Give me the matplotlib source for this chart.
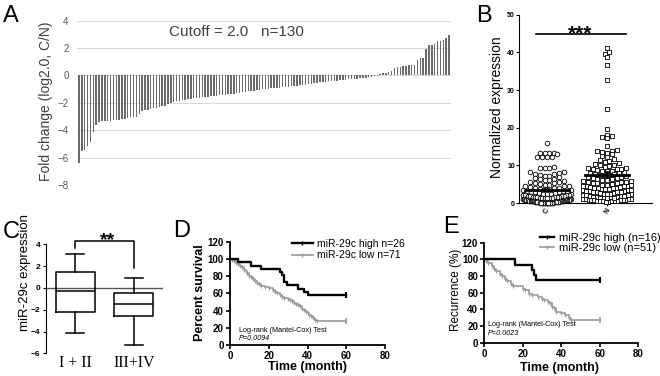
import numpy as np
import matplotlib
matplotlib.use("Agg")
import matplotlib.pyplot as plt
from matplotlib.lines import Line2D

plt.rcParams['font.family'] = ['Liberation Sans', 'DejaVu Sans']

W, H = 660, 376

# ---- A: fold change per sample, sorted
fold_change = [
    -6.4, -5.5, -5.45, -5.15, -4.85, -4.15, -3.65, -3.4,
    -3.35, -3.33, -3.32, -3.3, -3.28, -3.25, -3.22, -3.2, -3.15, -3.1, -3.05, -3.02, -3.0,
    -2.85,
    -2.6, -2.55, -2.5, -2.45, -2.4, -2.35, -2.3, -2.25, -2.2, -2.1, -2.0,
    -1.95, -1.9, -1.85, -1.82, -1.8, -1.75, -1.7, -1.68, -1.65, -1.62, -1.6, -1.58,
    -1.55, -1.52, -1.5, -1.48, -1.45, -1.42, -1.4, -1.37, -1.35, -1.32, -1.3, -1.27,
    -1.24, -1.2, -1.17, -1.14, -1.1, -1.07, -1.04, -1.0,
    -0.98, -0.96, -0.94, -0.92, -0.9, -0.88, -0.86, -0.84, -0.82, -0.8, -0.78, -0.75,
    -0.72, -0.7, -0.67, -0.64, -0.6, -0.57, -0.54, -0.5, -0.48, -0.45,
    -0.43, -0.41, -0.39, -0.37, -0.35, -0.33, -0.31, -0.29, -0.27, -0.25, -0.23, -0.21,
    -0.19, -0.16, -0.13, -0.1, -0.06, -0.02,
    0.1, 0.15, 0.2, 0.25, 0.3, 0.55, 0.6, 0.65, 0.7, 0.72, 0.75, 0.78, 0.8,
    1.1, 1.25, 1.3, 1.9, 2.2, 2.25, 2.3, 2.55, 2.55, 2.6, 2.7, 2.95]

# ---- B: normalized expression, cancer (C) vs normal (N)
group_labels = ['C', 'N']
cancer_expr = [
    15.8, 13.4, 13.3, 13.3, 13.2, 13.1, 12.3, 12.2, 12.2, 12.1, 9.5, 9.4, 9.3, 9.2,
    8.3, 8.1, 7.9, 7.7, 7.6, 7.4, 7.3, 7.2, 6.9, 6.7, 6.5, 6.3, 6.2, 6.0, 5.9, 5.7,
    5.6, 5.4, 5.3, 5.1,
    4.9, 4.8, 4.6, 4.5, 4.4, 4.2, 4.1, 4.0, 3.9, 3.8,
    3.7, 3.6, 3.5, 3.4, 3.3, 3.2, 3.1, 3.0, 2.9, 2.8,
    2.7, 2.6, 2.5, 2.5, 2.4, 2.3, 2.2, 2.2, 2.1, 2.0,
    1.9, 1.9, 1.8, 1.8, 1.7, 1.7, 1.6, 1.6, 1.5, 1.5,
    1.4, 1.4, 1.3, 1.3, 1.2, 1.2, 1.1, 1.1, 1.0, 1.0,
    0.9, 0.9, 0.9, 0.8, 0.8, 0.8, 0.7, 0.7, 0.7, 0.6,
    0.6, 0.6, 0.5, 0.5, 0.5, 0.5, 0.4, 0.4, 0.4, 0.4,
    0.3, 0.3, 0.3, 0.3, 0.3, 0.2, 0.2, 0.2, 0.2, 0.2,
    0.2, 0.1, 0.1, 0.1, 0.1, 0.1, 0.1, 0.1, 0.1, 0.1,
    0.1, 0.1, 0.1, 0.1, 0.05, 0.05]
normal_expr = [
    41.2, 40.0, 39.6, 38.7, 36.6, 32.7, 24.9, 19.6, 18.1, 17.8, 17.4, 17.3,
    15.1, 14.0, 13.8, 13.7, 13.6, 13.4, 12.9, 12.6, 12.2, 11.7, 11.4, 11.1, 10.8,
    10.6, 10.4, 10.2, 10.0, 9.8, 9.6, 9.4,
    9.2, 9.0, 8.8, 8.6, 8.4, 8.2, 8.0, 7.8, 7.6, 7.4,
    7.2, 7.0, 6.9, 6.7, 6.5, 6.3, 6.1, 5.9, 5.8, 5.6,
    5.5, 5.3, 5.2, 5.0, 4.9, 4.8, 4.6, 4.5, 4.4, 4.3,
    4.2, 4.1, 4.0, 3.9, 3.8, 3.7, 3.6, 3.5, 3.4, 3.3,
    3.2, 3.1, 3.0, 2.9, 2.8, 2.7, 2.6, 2.5, 2.4, 2.3,
    2.2, 2.1, 2.0, 1.9, 1.8, 1.7, 1.6, 1.5, 1.4, 1.3,
    1.2, 1.2, 1.1, 1.1, 1.0, 1.0, 0.9, 0.9, 0.8, 0.8,
    0.7, 0.7, 0.6, 0.6, 0.5, 0.5, 0.4, 0.4, 0.3, 0.3,
    9.1, 8.9, 8.5, 7.9, 7.5, 7.1, 6.6, 6.2, 5.7, 5.4, 4.7, 4.4, 3.9, 3.5,
    2.8, 2.4, 1.9, 1.4]

# ---- C: box plot by stage
stage_labels = ['I + II', 'III+IV']
stage_whislo = [-4.15, -5.25]
stage_q1 = [-2.25, -2.6]
stage_med = [-0.3, -1.5]
stage_q3 = [1.45, -0.5]
stage_whishi = [3.15, 0.95]

# ---- D: overall survival (Kaplan-Meier steps)
surv_high_t = [0, 4, 11, 16, 26, 27, 28, 29.5, 35, 38, 40, 60]
surv_high_s = [100, 96.2, 92.3, 88.5, 84.6, 80.8, 73.1, 69.2, 65.4, 61.5, 57.7, 57.7]
surv_low_t = [0, 1, 2, 3, 4, 5, 6, 7, 8, 9, 10, 11, 12, 13, 14, 15, 16, 18, 20, 22,
              23, 24, 26, 27, 28, 30, 31, 32, 33, 34, 35, 36, 37, 38, 39, 40, 41, 42,
              43, 44, 45, 60]
surv_low_s = [100, 98.6, 97.2, 95.8, 94.4, 91.5, 90.1, 87.3, 85.9, 83.1, 80.3, 78.9,
              76.1, 74.6, 71.8, 70.4, 69.0, 67.6, 66.2, 63.4, 62.0, 60.6, 57.7, 56.3,
              54.9, 53.5, 52.1, 50.7, 49.3, 47.9, 46.5, 45.1, 42.3, 40.8, 38.0, 36.6,
              35.2, 33.8, 31.0, 29.6, 28.2, 28.2]

# ---- E: recurrence (Kaplan-Meier steps)
rec_high_t = [0, 16, 25, 26, 27, 60]
rec_high_s = [100, 93.75, 87.5, 81.25, 75, 75]
rec_low_t = [0, 1, 2, 4, 5, 6, 8, 9, 11, 12, 14, 15, 20, 21, 23, 25, 28, 30, 31, 33,
             34, 35, 36, 37, 40, 42, 44, 45, 60]
rec_low_s = [100, 98.0, 96.1, 92.2, 88.2, 86.3, 82.4, 80.4, 76.5, 74.5, 70.6, 67.7,
             64.7, 62.7, 58.8, 56.9, 54.9, 52.9, 51.0, 49.0, 47.1, 43.1, 41.2, 37.3,
             35.3, 33.3, 29.4, 27.5, 27.5]

fig = plt.figure(figsize=(W / 100, H / 100), dpi=100)


def axes_px(left, top, right, bottom):
    return fig.add_axes([left / W, 1 - bottom / H, (right - left) / W, (bottom - top) / H])


def ftext(x, y, s, **kw):
    kw.setdefault('ha', 'center')
    kw.setdefault('va', 'center')
    fig.text(x / W, 1 - y / H, s, **kw)


def bold_ticks(ax, size):
    for lbl in ax.get_xticklabels() + ax.get_yticklabels():
        lbl.set_fontweight('bold')
        lbl.set_fontsize(size)


def swarm_offsets(values, bin_size, step, max_half):
    vals = np.asarray(values, dtype=float)
    offs = np.zeros(len(vals))
    bins = np.floor(vals / bin_size).astype(int)
    for b in np.unique(bins):
        members = np.where(bins == b)[0]
        members = members[np.argsort(vals[members])]
        n = len(members)
        if n == 1:
            continue
        sp = min(step, 2 * max_half / (n - 1))
        pos = (np.arange(n) - (n - 1) / 2) * sp
        pos = pos[np.argsort(np.abs(pos), kind='stable')]
        offs[members] = pos
    return offs


# panel letters
for letter, (lx, ly) in zip('ABCDE', [(11, 15.5), (483.5, 15.5), (11, 232.5),
                                       (181.5, 231), (451, 227.5)]):
    ftext(lx, ly, letter, fontsize=17)

# ================= A
axA = axes_px(77, 20.7, 451, 185)
idx = np.arange(len(fold_change))
axA.bar(idx, fold_change, width=0.5, color='#6a6a6a', zorder=3)
axA.set_xlim(-0.7, 129.7)
axA.set_ylim(-8, 4)
axA.set_yticks(range(-8, 5, 2))
axA.set_xticks([])
axA.yaxis.grid(True, color='#d9d9d9', lw=0.8)
axA.set_axisbelow(True)
for sp in axA.spines.values():
    sp.set_visible(False)
axA.tick_params(axis='y', length=0, labelsize=7, labelcolor='#595959', pad=6)
ftext(46.5, 101.5, 'Fold change (log2.0, C/N)', rotation=90, fontsize=10, color='#404040')
ftext(236, 32, 'Cutoff = 2.0   n=130', fontsize=11, color='#404040')

# ================= B
axB = axes_px(519, 14.7, 652, 203)
axB.set_xlim(-0.467, 1.75)
axB.set_ylim(0, 50)
markers = ['o', 's']
for i, vals in enumerate([cancer_expr, normal_expr]):
    offs = swarm_offsets(vals, 1.2, 0.08, 0.4)
    axB.scatter(i + offs, vals, s=11 if i == 0 else 10, marker=markers[i],
                facecolors='white', edgecolors='black', linewidths=0.6,
                zorder=3, clip_on=False)
    m = np.mean(vals)
    sem = np.std(vals, ddof=1) / np.sqrt(len(vals))
    axB.plot([i - 0.37, i + 0.37], [m, m], color='black', lw=2, zorder=4)
    axB.errorbar(i, m, yerr=sem, color='black', capsize=2.5, lw=1.2,
                 capthick=1.2, zorder=4)
axB.plot([-0.18, 1.32], [45, 45], color='black', lw=1.2)
axB.text(0.55, 43.5, '***', ha='center', va='baseline', fontsize=15, fontweight='bold')
axB.spines['top'].set_visible(False)
axB.spines['right'].set_visible(False)
axB.set_yticks(range(0, 51, 10))
axB.set_xticks([0, 1])
axB.set_xticklabels(group_labels, rotation=60)
axB.tick_params(length=2, width=0.8, pad=1)
bold_ticks(axB, 5)
ftext(496.5, 107.5, 'Normalized expression', rotation=90, fontsize=10)

# ================= C
axC = axes_px(46, 244.3, 163, 353.3)
stats = []
for i in range(len(stage_labels)):
    stats.append({'whislo': stage_whislo[i], 'q1': stage_q1[i], 'med': stage_med[i],
                  'q3': stage_q3[i], 'whishi': stage_whishi[i], 'fliers': []})
line_kw = dict(color='black', lw=1.1)
axC.bxp(stats, positions=[1, 2], widths=0.67, showfliers=False,
        boxprops=line_kw, whiskerprops=line_kw, capprops=line_kw,
        medianprops=line_kw, capwidths=0.31)
axC.axhline(0, color='#555555', lw=1, zorder=0)
axC.set_xlim(0.5, 2.5)
axC.set_ylim(-6, 4)
axC.set_yticks(range(-6, 5, 2))
axC.set_xticks([1, 2])
axC.set_xticklabels(stage_labels, family='Liberation Serif', fontsize=11.5)
for lbl in axC.get_yticklabels():
    lbl.set_fontweight('bold')
    lbl.set_fontsize(6)
for k in ['top', 'right', 'bottom']:
    axC.spines[k].set_visible(False)
axC.tick_params(axis='x', length=0, pad=1)
axC.tick_params(axis='y', length=2.5, width=0.8, pad=1.5)
axC.plot([1, 1, 2, 2], [3.7, 4.33, 4.33, 1.85], color='black', lw=1.1, clip_on=False)
axC.text(1.56, 3.95, '**', ha='center', va='baseline', fontsize=14,
         fontweight='bold', clip_on=False)
ftext(25, 272.5, 'miR-29c expression', rotation=90, fontsize=9.5)


# ================= D / E
def km_panel(ax, t_hi, s_hi, t_lo, s_lo):
    ax.step(t_lo, s_lo, where='post', color='#9a9a9a', lw=1.2, clip_on=False)
    ax.plot(t_lo[1:-1], s_lo[1:-1], linestyle='none', marker='|', ms=2.5,
            color='#9a9a9a', mew=0.8)
    ax.step(t_hi, s_hi, where='post', color='black', lw=1.7, clip_on=False)
    ax.plot(t_lo[-1], s_lo[-1], marker='|', ms=4, color='#9a9a9a', mew=1.2)
    ax.plot(t_hi[-1], s_hi[-1], marker='|', ms=4, color='black', mew=1.5)
    ax.set_xlim(0, 80)
    ax.set_ylim(0, 120)
    ax.set_xticks(range(0, 81, 20))
    ax.set_yticks(range(0, 121, 20))
    ax.spines['top'].set_visible(False)
    ax.spines['right'].set_visible(False)
    for k in ['left', 'bottom']:
        ax.spines[k].set_linewidth(1.3)
    ax.tick_params(length=3, width=1.2, pad=1.5)
    bold_ticks(ax, 7)


hi_handle = Line2D([], [], color='black', lw=1.7, marker='|', ms=3)
lo_handle = Line2D([], [], color='#9a9a9a', lw=1.2, marker='|', ms=3)

axD = axes_px(230, 241.7, 385, 345)
km_panel(axD, surv_high_t, surv_high_s, surv_low_t, surv_low_s)
axD.legend([hi_handle, lo_handle], ['miR-29c high n=26', 'miR-29c low n=71'],
           loc='upper left', bbox_to_anchor=(0.40, 1.03), frameon=False,
           fontsize=7.5, handlelength=2.0, handletextpad=0.4, labelspacing=0.15,
           borderpad=0, borderaxespad=0)
ftext(239, 330, 'Log-rank (Mantel-Cox) Test', fontsize=5.2, ha='left')
ftext(239, 338.5, 'P=0.0094', fontsize=5.2, ha='left', style='italic')
ftext(200, 292.5, 'Percent survival', rotation=90, fontsize=9, fontweight='bold')
ftext(307.5, 366.7, 'Time (month)', fontsize=9, fontweight='bold')

axE = axes_px(484.3, 242.7, 638.3, 342.7)
km_panel(axE, rec_high_t, rec_high_s, rec_low_t, rec_low_s)
axE.legend([hi_handle, lo_handle], ['miR-29c high (n=16)', 'miR-29c low (n=51)'],
           loc='upper left', bbox_to_anchor=(0.36, 1.1), frameon=False,
           fontsize=8, handlelength=1.3, handletextpad=0.4, labelspacing=0.0,
           borderpad=0, borderaxespad=0)
ftext(488, 325, 'Log-rank (Mantel-Cox) Test', fontsize=5.2, ha='left')
ftext(488, 333.5, 'P=0.0023', fontsize=5.2, ha='left', style='italic')
ftext(456.5, 290, 'Recurrence (%)', rotation=90, fontsize=8.5)
ftext(559.7, 368.3, 'Time (month)', fontsize=9, fontweight='bold')

fig.savefig('out.png', dpi=100)
